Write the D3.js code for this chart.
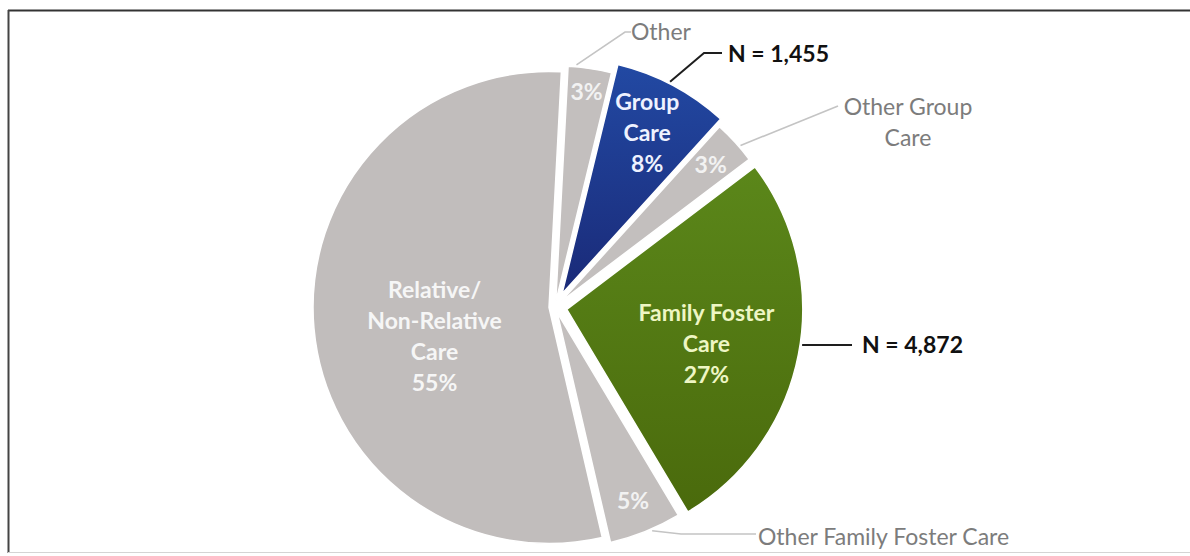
<!DOCTYPE html>
<html>
<head>
<meta charset="utf-8">
<script src="https://cdn.jsdelivr.net/npm/d3@7"></script>
<style>
  body { margin: 0; background: #fff; }
  svg { display: block; }
  text { font-family: Lato, "Open Sans", sans-serif; }
</style>
</head>
<body>
<svg id="chart" width="1190" height="556"></svg>
<script>
// Placement type shares (percent), clockwise from the top
const categories = ["Other", "Group Care", "Other Group Care", "Family Foster Care", "Other Family Foster Care", "Relative/Non-Relative Care"];
const percents = [3, 8, 3, 27, 5, 55];
// Counts shown next to the highlighted slices
const countCategories = ["Group Care", "Family Foster Care"];
const countValues = [1455, 4872];
// Text lines drawn inside each slice above its percentage
const insideNames = [[], ["Group", "Care"], [], ["Family Foster", "Care"], [], ["Relative/", "Non-Relative", "Care"]];
// Outside captions for the small slices
const outsideNames = [["Other"], [], ["Other Group", "Care"], [], ["Other Family Foster Care"], []];

// ---- layout / style ----
const W = 1190, H = 556;
const cx = 555, cy = 307, R = 236;
const deg = Math.PI / 180;
const startDeg = 3;
const explode = [5, 15, 8, 12, 6, 6];
const labelFrac = [0.90, 0.77, 0.86, 0.61, 0.86, 0.50];
const labelTurn = [0, 0, 0, 3, 0, -9];
const sliceFill = ["#c3bfbe", "url(#gBlue)", "#c3bfbe", "url(#gGreen)", "#c3bfbe", "#c1bdbc"];
const insideColor = ["#f2f2f2", "#eef2ff", "#f2f2f2", "#eef6c4", "#f2f2f2", "#f6f6f6"];
const fontSize = 23, lineH = 31;

const svg = d3.select("#chart");

const defs = svg.append("defs");
const gb = defs.append("linearGradient").attr("id", "gBlue").attr("x1", 0).attr("y1", 0).attr("x2", 0).attr("y2", 1);
gb.append("stop").attr("offset", "0%").attr("stop-color", "#2249a3");
gb.append("stop").attr("offset", "100%").attr("stop-color", "#1a2a78");
const gg = defs.append("linearGradient").attr("id", "gGreen").attr("x1", 0).attr("y1", 0).attr("x2", 0).attr("y2", 1);
gg.append("stop").attr("offset", "0%").attr("stop-color", "#5b871a");
gg.append("stop").attr("offset", "100%").attr("stop-color", "#4a6a0c");

// frame
svg.append("line").attr("x1", 8).attr("x2", W).attr("y1", 10.5).attr("y2", 10.5).attr("stroke", "#333").attr("stroke-width", 2);
svg.append("line").attr("x1", 8.5).attr("x2", 8.5).attr("y1", 10).attr("y2", 553).attr("stroke", "#444").attr("stroke-width", 2);
svg.append("line").attr("x1", 8).attr("x2", W).attr("y1", 552.5).attr("y2", 552.5).attr("stroke", "#d4d4d4").attr("stroke-width", 1);

const pie = d3.pie().sort(null).value(d => d)
  .startAngle(startDeg * deg).endAngle(startDeg * deg + 2 * Math.PI);
const arcs = pie(percents);
const arc = d3.arc().innerRadius(0).outerRadius(R);

function sliceCenter(i) {
  const a = arcs[i];
  const mid = (a.startAngle + a.endAngle) / 2;
  return [cx + explode[i] * Math.sin(mid), cy - explode[i] * Math.cos(mid)];
}
function onArc(i, angDeg, r) {
  const c = sliceCenter(i);
  const rr = r === undefined ? R : r;
  return [c[0] + rr * Math.sin(angDeg * deg), c[1] - rr * Math.cos(angDeg * deg)];
}

const slices = svg.append("g").selectAll("g").data(arcs).join("g")
  .attr("transform", (d, i) => `translate(${sliceCenter(i)})`);

slices.append("path")
  .attr("d", arc)
  .attr("fill", (d, i) => sliceFill[i])
  .attr("stroke", "#fff")
  .attr("stroke-width", 1.5);

// labels inside the slices
slices.each(function (d, i) {
  const mid = (d.startAngle + d.endAngle) / 2 + labelTurn[i] * deg;
  const r = R * labelFrac[i];
  const lx = r * Math.sin(mid), ly = -r * Math.cos(mid);
  const lines = insideNames[i].concat([percents[i] + "%"]);
  const t = d3.select(this).append("text")
    .attr("text-anchor", "middle")
    .attr("font-size", fontSize)
    .attr("font-weight", 700)
    .attr("fill", insideColor[i]);
  lines.forEach((s, k) => {
    t.append("tspan")
      .attr("x", lx)
      .attr("y", ly + (k - (lines.length - 1) / 2) * lineH)
      .attr("dy", "0.35em")
      .text(s);
  });
});

// callouts
const fmt = d3.format(",");
const callouts = [
  { slice: 0, angle: 5, path: [[625, 32], [631, 32]], lines: outsideNames[0], x: 631, y: 32, anchor: "start", dark: false },
  { slice: 1, angle: 27, path: [[704, 53], [722, 53]], lines: ["N = " + fmt(countValues[0])], x: 728, y: 54, anchor: "start", dark: true },
  { slice: 2, angle: 49, path: [[838, 106]], lines: outsideNames[2], x: 908, y: 107, anchor: "middle", dark: false },
  { slice: 3, angle: 98.6, path: [[852, 345]], lines: ["N = " + fmt(countValues[1])], x: 862, y: 345, anchor: "start", dark: true },
  { slice: 4, angle: 156.5, path: [[681, 534], [756, 534]], lines: outsideNames[4], x: 758, y: 537, anchor: "start", dark: false }
];

const line = d3.line();
callouts.forEach(c => {
  const pts = [onArc(c.slice, c.angle, R + 2)].concat(c.path);
  svg.append("path")
    .attr("d", line(pts))
    .attr("fill", "none")
    .attr("stroke", c.dark ? "#1e1e1e" : "#c4c4c4")
    .attr("stroke-width", c.dark ? 2 : 1.6);
  const t = svg.append("text")
    .attr("text-anchor", c.anchor)
    .attr("font-size", fontSize)
    .attr("font-weight", c.dark ? 700 : 400)
    .attr("fill", c.dark ? "#111" : "#7c7c7c");
  c.lines.forEach((s, k) => {
    t.append("tspan").attr("x", c.x).attr("y", c.y + k * lineH).attr("dy", "0.35em").text(s);
  });
});
</script>
</body>
</html>
